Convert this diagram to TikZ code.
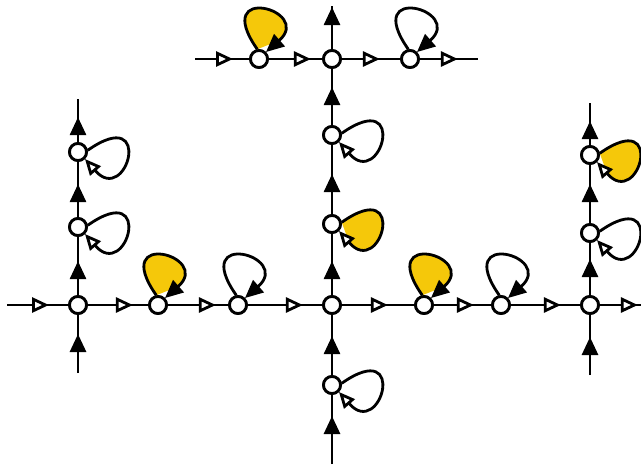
\documentclass[tikz,border=0pt]{standalone}
\usetikzlibrary{arrows.meta,decorations.markings}
\definecolor{loopgold}{RGB}{245,200,10}
\tikzset{
  x=1pt, y=-1pt,
  every path/.style={line width=2.8pt},
  vx/.style={circle, draw, fill=white, line width=2.8pt, minimum size=17pt, inner sep=0pt},
  % open (white) heads mark the horizontal direction
  hmark/.style={postaction={decorate}, decoration={markings,
      mark=at position #1 with {\arrow{Triangle[fill=white, length=17pt, width=15pt]}}}},
  % solid heads mark the vertical direction
  vmark/.style={postaction={decorate}, decoration={markings,
      mark=at position #1 with {\arrow{Triangle[length=18pt, width=16pt]}}}},
  uploop/.style={-{Triangle[length=18pt, width=16pt]}},
  rightloop/.style={-{Triangle[fill=white, length=16pt, width=14pt]}},
  gold/.style={fill=loopgold},
}
\begin{document}
\begin{tikzpicture}
\useasboundingbox (0,0) rectangle (641,464);

% vertices
\node[vx] (A)  at (78,305)  {};
\node[vx] (B)  at (158,305) {};
\node[vx] (C)  at (238,305) {};
\node[vx] (O)  at (332,305) {};
\node[vx] (D)  at (424,305) {};
\node[vx] (E)  at (501,305) {};
\node[vx] (F)  at (590,305) {};
\node[vx] (T1) at (259,59)  {};
\node[vx] (T2) at (332,59)  {};
\node[vx] (T3) at (410,59)  {};
\node[vx] (V2) at (332,135) {};
\node[vx] (V1) at (332,224) {};
\node[vx] (V4) at (332,385) {};
\node[vx] (L2) at (78,152)  {};
\node[vx] (L1) at (78,227)  {};
\node[vx] (R2) at (590,155) {};
\node[vx] (R1) at (590,233) {};

% free ends
\coordinate (hl) at (7,305);
\coordinate (hr) at (641,305);
\coordinate (tl) at (195,59);
\coordinate (tr) at (478,59);
\coordinate (vt) at (332,6);
\coordinate (vb) at (332,464);
\coordinate (lt) at (78,99);
\coordinate (lb) at (78,373);
\coordinate (rt) at (590,103);
\coordinate (rb) at (590,375);

% horizontal chains
\draw[hmark=42pt] (hl) -- (A);
\draw[hmark=45pt] (A) -- (B);
\draw[hmark=48pt] (B) -- (C);
\draw[hmark=55pt] (C) -- (O);
\draw[hmark=46pt] (O) -- (D);
\draw[hmark=40pt] (D) -- (E);
\draw[hmark=50pt] (E) -- (F);
\draw[hmark=38pt] (F) -- (hr);
\draw[hmark=38pt] (tl) -- (T1);
\draw[hmark=42pt] (T1) -- (T2);
\draw[hmark=38pt] (T2) -- (T3);
\draw[hmark=38pt] (T3) -- (tr);

% vertical chains
\draw[vmark=48pt] (vb) -- (V4);
\draw[vmark=39pt] (V4) -- (O);
\draw[vmark=34pt] (O) -- (V1);
\draw[vmark=40pt] (V1) -- (V2);
\draw[vmark=38pt] (V2) -- (T2);
\draw[vmark=42pt] (T2) -- (vt);
\draw[vmark=39pt] (lb) -- (A);
\draw[vmark=34pt] (A) -- (L1);
\draw[vmark=33pt] (L1) -- (L2);
\draw[vmark=25pt] (L2) -- (lt);
\draw[vmark=38pt] (rb) -- (F);
\draw[vmark=36pt] (F) -- (R1);
\draw[vmark=39pt] (R1) -- (R2);
\draw[vmark=24pt] (R2) -- (rt);

% loops above the horizontal vertices
\filldraw[gold, uploop] (B.100)  .. controls +(-47,-67) and +(48,-42) .. (B.45);
\draw[uploop]           (C.100)  .. controls +(-47,-67) and +(48,-42) .. (C.45);
\filldraw[gold, uploop] (D.100)  .. controls +(-47,-67) and +(48,-42) .. (D.45);
\draw[uploop]           (E.100)  .. controls +(-47,-67) and +(48,-42) .. (E.45);
\filldraw[gold, uploop] (T1.100) .. controls +(-47,-67) and +(48,-42) .. (T1.45);
\draw[uploop]           (T3.100) .. controls +(-47,-67) and +(48,-42) .. (T3.45);

% loops to the right of the vertical vertices
\draw[rightloop]           (L2.10) .. controls +(67,-47) and +(42,48) .. (L2.-45);
\draw[rightloop]           (L1.10) .. controls +(67,-47) and +(42,48) .. (L1.-45);
\draw[rightloop]           (V2.10) .. controls +(67,-47) and +(42,48) .. (V2.-45);
\filldraw[gold, rightloop] (V1.10) .. controls +(67,-47) and +(42,48) .. (V1.-45);
\draw[rightloop]           (V4.10) .. controls +(67,-47) and +(42,48) .. (V4.-45);
\filldraw[gold, rightloop] (R2.10) .. controls +(67,-47) and +(42,48) .. (R2.-45);
\draw[rightloop]           (R1.10) .. controls +(67,-47) and +(42,48) .. (R1.-45);

% vertices redrawn over the connectors
\foreach \n in {A,B,C,O,D,E,F,T1,T2,T3,V2,V1,V4,L2,L1,R2,R1}
  \draw[fill=white] (\n.center) circle (8.5);
\end{tikzpicture}
\end{document}
